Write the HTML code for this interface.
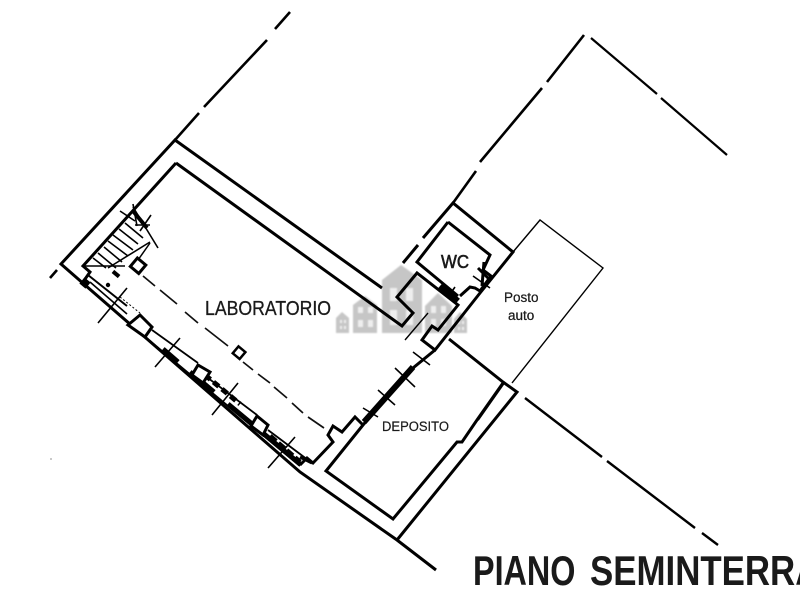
<!DOCTYPE html>
<html><head><meta charset="utf-8"><style>
html,body{margin:0;padding:0;background:#fff;width:800px;height:600px;overflow:hidden}
svg{display:block}
text{font-family:"Liberation Sans",sans-serif;fill:#1a1a1a}
</style></head><body>
<svg width="800" height="600" viewBox="0 0 800 600" xmlns="http://www.w3.org/2000/svg">
<defs><filter id="b" x="-5%" y="-5%" width="110%" height="110%"><feGaussianBlur stdDeviation="0.7"/></filter></defs>
<!-- watermark -->
<g filter="url(#b)">
<g fill="#c6c6c6">
<path d="M336 333V318L342 312L349 318V333Z"/>
<path d="M353 333V305L365 296L377 305V333Z"/>
<path d="M382 333V280L401 265L422 280V333Z"/>
<path d="M425 333V306L438 293L452 306V333Z"/>
<path d="M454 333V319L460 312L467 319V333Z"/>
</g>
<g fill="#eeeeee">
<rect x="358" y="307" width="5" height="6"/><rect x="368" y="307" width="5" height="6"/><rect x="358" y="320" width="5" height="7"/><rect x="368" y="320" width="5" height="7"/>
<rect x="390" y="288" width="7" height="13"/><rect x="406" y="288" width="7" height="13"/><rect x="390" y="310" width="7" height="15"/><rect x="406" y="310" width="7" height="15"/>
<rect x="431" y="306" width="5" height="7"/><rect x="441" y="306" width="5" height="7"/><rect x="431" y="319" width="5" height="7"/><rect x="441" y="319" width="5" height="7"/>
<rect x="340" y="320" width="2" height="3"/><rect x="344" y="320" width="2" height="3"/><rect x="340" y="326" width="2" height="3"/><rect x="344" y="326" width="2" height="3"/>
<rect x="458" y="321" width="2" height="3"/><rect x="462" y="321" width="2" height="3"/><rect x="458" y="327" width="2" height="3"/><rect x="462" y="327" width="2" height="3"/>
</g>
</g>
<!-- property lines -->
<g fill="none" stroke="#000" stroke-width="2.6">
<path d="M175 140L199 113M204 107L267 40M275 29L290 12"/>
<path d="M50 278L57 270"/>
<path d="M453 203L476 171M480 162L542 88M547 82L584 35" />
<path d="M591 38L657 94M661 98L727 155" stroke-width="2.2"/>
<path d="M525 398L602 457M607 461L695 528M702 533L718 545" stroke-width="2.4"/>
</g>
<!-- posto auto -->
<path d="M513 252L540 220L603 268L512 383" fill="none" stroke="#000" stroke-width="1.4"/>
<!-- main walls -->
<g fill="none" stroke="#000" stroke-width="3" stroke-linejoin="miter">
<path d="M382 288L175 140L61 264L85 285L300 472L397 540L436 570"/>
<path d="M176 163L83 266L90 272L83 282"/>
<path d="M176 163L402 326L413 313L397 297L417 273L458 305L438 330L432 326L422 340L435 350L480 293L513 252L453 203L423 238"/>
<path d="M418 245L403 263"/>
<path d="M448 222L417 262L458 296"/>
<path d="M448 222L490 255L483 270L491 276L480 291L475 288L470 287L460 296"/>
<path d="M449 339L503 382L517 392L397 540"/>
<path d="M435 350L413 368L363 425L326 471L393 519L457 442L462 442L477 420L503 383"/>
<path d="M363 425L355 417L342 432L333 426L328 435L333 442L313 463L307 458L300 465"/>
</g>
<!-- thick deposito wall and wc details -->
<g fill="none" stroke="#000">
<path d="M364 422L413 367" stroke-width="6"/>
<path d="M440 286L458 301" stroke-width="6"/>
<path d="M478 268L490 280" stroke-width="3"/>
<path d="M484 262L482 286" stroke-width="3"/>
<path d="M504 383L478 420" stroke-width="2"/>
<path d="M405 340L428 313" stroke-width="1.4"/>
</g>
<!-- stairs -->
<g fill="none" stroke="#000" stroke-width="1.6">
<path d="M125 223L143 238M119 229L138 244M113 235L133 250M108 241L128 256M104 247L122 262M98 253L116 268M93 258L106 268"/>
<path d="M84 266L125 266"/>
<path d="M108 268L150 242"/>
<path d="M133 207L158 248"/>
<path d="M120 211L135 221M133 204L137 226M151 215L140 231M150 225L135 225"/>
<path d="M133 211L147 228" stroke-width="4"/>
<path d="M138 260L150 243" stroke-width="1.5"/>
</g>
<rect x="133" y="260" width="11" height="11" transform="rotate(40 138 265)" fill="#fff" stroke="#000" stroke-width="3"/>
<rect x="235" y="348" width="9" height="9" transform="rotate(40 239 352)" fill="#fff" stroke="#000" stroke-width="2.5"/>
<!-- dashed central beam -->
<path d="M143 276L155 286M160 290L177 304M185 312L198 323M205 328L228 346M243 362L253 370M258 374L270 383M274 387L287 398M292 403L303 413M308 417L324 428" fill="none" stroke="#111" stroke-width="1.7"/>
<!-- window band -->
<g fill="none" stroke="#000">
<path d="M90 282L127 314" stroke-width="1.6"/>
<path d="M88 275L127 306" stroke-width="2"/>
<path d="M152 330L198 363M208 378L257 415M268 430L308 460" stroke-width="1.8"/>
<path d="M120 297L140 313" stroke-width="1" stroke-dasharray="2 2"/>
<path d="M145 337L300 466" stroke-width="2"/>
<path d="M163 349L178 362M190 372L214 392M228 404L300 464" stroke-width="5"/>
<path d="M205 375L240 404" stroke-width="5" stroke-dasharray="7 4"/>
<path d="M270 436L300 462" stroke-width="5" stroke-dasharray="8 3"/>
<path d="M300 457L312 463" stroke-width="3"/>
<g fill="#fff" stroke-width="3">
<path d="M128 325L140 315L152 327L145 337Z"/>
<path d="M198 365L210 372L203 383L192 375Z"/>
<path d="M257 416L268 425L263 435L251 426Z"/>
</g>
<!-- ticks -->
<g stroke-width="1.6">
<path d="M98 323L127 288M155 367L180 338M212 415L238 383M268 468L295 437"/>
<path d="M363 408L378 417M378 390L395 405M395 368L415 387M413 352L430 365M473 276L490 288M455 287L448 297"/>
</g>
</g>
<rect x="81" y="279" width="8" height="8" transform="rotate(40 85 283)" fill="#000"/>
<rect x="112" y="272" width="8" height="4" transform="rotate(40 116 274)" fill="#000"/>
<circle cx="108" cy="285" r="2.2" fill="#000"/>
<!-- labels -->
<text x="205" y="315" font-size="20" textLength="126" lengthAdjust="spacingAndGlyphs" stroke="#1a1a1a" stroke-width=".3">LABORATORIO</text>
<text x="441" y="268" font-size="18" textLength="28" lengthAdjust="spacingAndGlyphs" stroke="#1a1a1a" stroke-width=".6">WC</text>
<text x="504" y="302" font-size="13.5" stroke="#1a1a1a" stroke-width=".25">Posto</text>
<text x="508" y="320" font-size="13.5" stroke="#1a1a1a" stroke-width=".25">auto</text>
<text x="382" y="431" font-size="13.5" textLength="67" lengthAdjust="spacingAndGlyphs" stroke="#1a1a1a" stroke-width=".2">DEPOSITO</text>
<text transform="translate(473 585) scale(.77 1)" font-size="42" font-weight="bold" fill="#1a1a1a">PIANO</text>
<text transform="translate(590 585) scale(.83 1)" font-size="42" font-weight="bold" fill="#1a1a1a">SEMINTERRA</text>
<circle cx="51" cy="459" r=".6" fill="#444"/>
</svg>
</body></html>
